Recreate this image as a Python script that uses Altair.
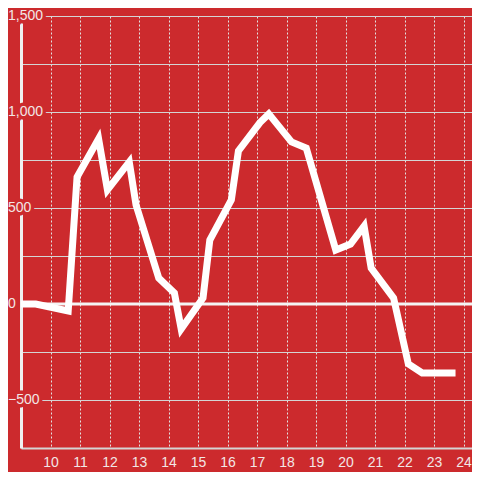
import altair as alt
import pandas as pd

# ---- data ----
hours = [9.0, 9.5, 10.6, 10.9, 11.63, 11.93, 12.67, 12.9, 13.67, 14.2, 14.43,
         15.17, 15.4, 16.13, 16.37, 17.1, 17.4, 18.17, 18.67, 19.67, 20.17,
         20.63, 20.87, 21.63, 22.13, 22.6, 23.73]
values = [0, 0, -36, 661, 860, 594, 740, 516, 135, 57, -130,
          31, 333, 542, 797, 945, 990, 844, 812, 281, 312,
          406, 187, 31, -312, -359, -359]
x_ticks = list(range(10, 25))
y_grid = list(range(-750, 1501, 250))
y_labels = [-500, 0, 500, 1000, 1500]

BG = "#cc2a2d"
LABEL = "#f2e6e6"
FONT = "Liberation Sans"

df = pd.DataFrame({"h": hours, "v": values})
lab_df = pd.DataFrame({"v": y_labels})
zero_df = pd.DataFrame({"z": [0]})

xscale = alt.Scale(domain=[9, 24.288], nice=False, zero=False)
yscale = alt.Scale(domain=[-750, 1500], nice=False)

xaxis = alt.Axis(values=x_ticks, title=None, grid=True, gridDash=[2, 2],
                 gridColor="#e2e2e2", gridWidth=1, ticks=False,
                 domainColor="#d4d4d4", domainWidth=2, labelColor=LABEL,
                 labelFontSize=14, labelFont=FONT, labelPadding=7)
yaxis = alt.Axis(values=y_grid, title=None, grid=True, gridColor="#d4d4d4",
                 gridWidth=1, ticks=False, labels=False,
                 domainColor="#f0f0f0", domainWidth=3)

line = alt.Chart(df).mark_line(color="white", strokeWidth=7,
                               strokeJoin="miter", strokeCap="butt").encode(
    x=alt.X("h:Q", scale=xscale, axis=xaxis),
    y=alt.Y("v:Q", scale=yscale, axis=yaxis),
)

zero = alt.Chart(zero_df).mark_rule(color="#f4f4f4", strokeWidth=3).encode(
    y=alt.Y("z:Q", scale=yscale, axis=yaxis),
)

mask = alt.Chart(lab_df).mark_text(
    align="left", baseline="middle", fontSize=14, font=FONT,
    color=BG, stroke=BG, strokeWidth=7, strokeJoin="round").encode(
    y=alt.Y("v:Q", scale=yscale, axis=yaxis),
    x=alt.value(-13),
    text=alt.Text("v:Q", format=","),
)

labels = alt.Chart(lab_df).mark_text(
    align="left", baseline="middle", fontSize=14, font=FONT,
    color=LABEL).encode(
    y=alt.Y("v:Q", scale=yscale, axis=yaxis),
    x=alt.value(-13),
    text=alt.Text("v:Q", format=","),
)

chart = alt.layer(zero, line, mask, labels).properties(
    width=451, height=432,
    padding={"left": 13, "top": 8, "right": 0, "bottom": 24},
    autosize=alt.AutoSizeParams(type="none"),
    background=BG,
).configure_view(strokeWidth=0)

chart.save("out.html", embed_options={"renderer": "svg", "actions": False})
